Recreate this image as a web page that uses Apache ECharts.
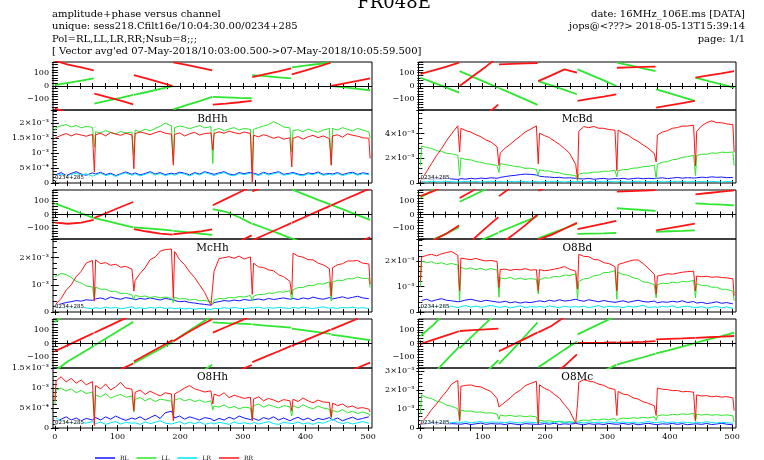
<!DOCTYPE html>
<html><head><meta charset="utf-8">
<script src="https://cdn.jsdelivr.net/npm/echarts/dist/echarts.min.js"></script>
<style>html,body{margin:0;padding:0;background:#fff}#c{width:764px;height:460px}</style>
</head><body><div id="c"></div>
<script>
// ---------------- data ----------------
const polNames = ['RL','LL','LR','RR'];
const channelsPerSubband = 63;
const subbands = 8;
const phaseOffsets = [0,21,42,62];              // channel offsets of phase samples inside a subband
const ampOffsets = [2,10,18,26,34,42,50,60];    // channel offsets of amplitude samples inside a subband
const dipChannels = [0,63,126,189,252,315,378,441,503]; // subband edge channels
const xTickLabels = [0,100,200,300,400,500];
const xTickMarks = [0,20,40,60,80,100,120,140,160,180,200,220,240,260,280,300,320,340,360,380,400,420,440,460,480,500];
const phaseTickLabels = [-100,0,100];
const AMP_UNIT = 1e-5; // amplitude arrays are in units of 1e-5

// BdHh
const ph_RR_BdHh = [-170,160,139,118, -57,-84,-110,-137, 82,55,27,0, 178,159,138,117, -140,-132,-122,-112, 67,89,110,132, 87,116,146,175, 0,19,38,57];
const ph_LL_BdHh = [7,24,40,57, -132,-110,-89,-67, -67,-45,-22,0, -175,-144,-113,-82, -82,-85,-89,-92, 82,74,65,57, 140,153,165,178, 0,-11,-21,-32];
const amp_RR_BdHh = [155,160,166,158,165,161,157,163, 162,167,158,170,164,160,167,161, 166,171,167,162,169,174,167,164, 163,168,158,165,170,161,166,168, 166,172,167,174,169,165,171,166, 160,155,162,157,150,155,147,152, 150,156,147,155,160,152,158,149, 158,162,154,165,160,157,152,150];
const dip_RR_BdHh = [150,37,48,60,110,3,54,60,82];
const amp_LL_BdHh = [186,192,196,188,193,185,190,187, 172,168,176,170,165,173,168,171, 178,172,181,175,183,190,201,192, 186,191,188,182,188,193,185,189, 178,183,175,181,186,178,183,180, 180,186,191,196,206,198,188,185, 176,179,172,181,175,170,178,183, 183,178,186,180,175,183,178,172];
const dip_LL_BdHh = [175,120,95,70,65,45,105,60,150];
const amp_RL_BdHh = [28,35,25,32,38,30,26,34, 30,36,28,33,25,31,37,29, 34,27,32,38,30,35,28,33, 30,36,33,27,35,30,38,32, 29,34,38,30,27,35,31,36, 33,28,36,30,34,38,29,33, 35,30,27,34,31,37,29,32, 30,35,28,33,36,29,34,31];
const amp_LR_BdHh = [24,30,22,28,33,26,31,23, 27,33,25,30,22,29,34,26, 31,24,29,35,27,32,25,30, 26,33,30,24,32,27,35,29, 25,31,35,27,24,32,28,33, 30,25,33,27,31,35,26,30, 32,27,24,31,28,34,26,29, 27,32,25,30,33,26,31,28];

// McBd
const ph_RR_McBd = [90,118,146,175, 0,73,145,-140, 162,166,170,172, 37,80,125,100, -112,-95,-79,-62, 137,140,143,145, -162,-145,-129,-112, 62,79,95,112];
const ph_LL_McBd = [62,25,-12,-50, 112,69,27,-15, -15,-57,-100,-142, 37,4,-29,-62, 125,83,42,0, 175,154,133,112, -25,-54,-83,-112, 62,37,13,-12];
const amp_RR_McBd = [25,92,158,222,278,342,398,462, 442,423,412,390,374,348,332,293, 243,282,313,347,378,412,433,462, 402,383,367,338,312,278,242,150, 418,456,447,457,443,442,432,427, 427,403,387,358,337,308,282,238, 388,412,423,442,448,460,460,467, 418,462,488,502,488,487,478,472];
const dip_RR_McBd = [10,250,141,155,30,100,170,140,250];
const amp_LL_McBd = [298,288,279,261,255,240,236,224, 203,190,187,173,168,156,152,141, 157,148,142,133,130,118,120,110, 107,98,97,86,82,70,67,58, 73,80,80,88,88,95,95,102, 98,108,110,120,122,132,134,143, 152,168,172,188,192,208,212,224, 222,233,232,243,240,249,247,250];
const dip_LL_McBd = [140,60,85,60,18,50,33,60,140];
const amp_RL_McBd = [30,36,28,34,31,38,33,29, 35,31,38,33,40,36,42,38, 45,52,58,62,68,72,70,65, 55,50,48,44,46,40,42,38, 35,32,38,30,34,37,31,36, 33,38,31,36,40,34,38,35, 38,42,36,40,45,39,43,40, 42,47,44,50,46,48,43,45];
const amp_LR_McBd = [12,8,14,10,9,13,11,8, 10,13,9,12,8,11,14,10, 12,9,13,10,15,11,8,12, 9,12,10,14,11,8,12,10, 11,8,12,9,13,10,12,9, 10,13,8,11,14,9,12,10, 12,9,11,14,10,13,9,11, 10,12,9,13,11,8,12,10];

// McHh
const ph_RR_McHh = [-60,-68,-60,-40, -25,15,55,92, -108,-125,-140,-148, -145,-135,-125,-110, 68,115,162,-153, 170,-147,-105,-63, -61,-18,25,65, 67,110,152,-167];
const ph_LL_McHh = [81,45,9,-27, -27,-49,-72,-94, -94,-102,-110,-118, -120,-130,-140,-150, 40,20,-20,-67, -67,-103,-139,-175, -176,146,108,73, 71,34,-4,-40];
const amp_RR_McHh = [32,50,80,100,130,150,180,190, 192,178,182,172,176,165,168,158, 116,142,163,193,202,224,230,232, 223,193,174,148,127,100,72,25, 150,197,200,204,198,206,195,203, 180,166,164,155,152,137,130,113, 217,206,202,193,192,180,174,160, 163,174,178,188,188,190,180,177];
const dip_RR_McHh = [25,40,77,50,20,65,65,59,102];
const amp_LL_McHh = [137,142,138,127,113,107,96,92, 92,84,84,76,76,68,69,63, 62,56,59,53,57,52,55,50, 54,48,50,44,47,41,43,38, 44,50,48,54,52,57,55,61, 58,65,64,70,69,75,73,79, 82,90,90,98,97,104,103,111, 110,117,116,123,122,129,124,124];
const dip_LL_McHh = [130,46,45,35,30,40,45,40,90];
const amp_RL_McHh = [25,30,35,38,42,40,45,43, 48,52,46,55,50,47,53,49, 45,50,47,52,48,44,50,46, 42,38,40,35,33,30,28,25, 35,38,42,40,44,41,46,43, 45,48,44,50,46,49,52,47, 50,46,52,48,55,50,47,53, 48,52,56,50,54,58,52,49];
const amp_LR_McHh = [14,17,12,16,13,18,15,12, 16,13,18,14,17,12,15,19, 13,16,12,17,14,18,13,15, 12,15,11,14,10,13,12,9, 14,12,16,13,17,14,12,16, 15,18,13,16,14,17,15,13, 17,14,18,15,13,16,19,14, 16,13,17,15,18,14,16,13];

// O8Bd
const ph_RR_O8Bd = [135,172,-140,-81, 121,175,-98,-19, 135,-155,-80,0, 175,-150,-105,-62, -108,-87,-67,-46, 168,172,176,179, -116,-100,-83,-67, 148,158,168,178];
const ph_LL_O8Bd = [125,178,-140,-94, 94,140,-174,-134, -130,-90,-50,-13, -175,-139,-103,-67, -143,-140,-138,-135, 46,40,33,27, -127,-123,-120,-116, 81,76,72,67];
const amp_RR_O8Bd = [215,222,226,220,228,233,237,222, 211,208,205,210,204,200,202,198, 166,168,163,167,165,170,164,166, 166,162,164,168,172,178,168,160, 226,218,217,206,204,193,190,178, 186,192,198,203,204,190,172,148, 141,145,150,148,152,156,158,160, 141,138,140,136,138,135,134,130];
const dip_RR_O8Bd = [122,83,96,83,90,83,70,83,64];
const amp_LL_O8Bd = [200,193,197,189,193,186,190,184, 175,168,173,166,171,164,170,164, 134,130,136,128,133,127,131,128, 126,134,133,140,138,145,143,149, 120,130,132,142,144,154,155,162, 156,146,144,134,130,118,116,107, 107,113,111,117,114,120,118,124, 111,104,104,97,97,89,89,81];
const dip_LL_O8Bd = [100,45,58,70,51,50,55,55,45];
const amp_RL_O8Bd = [45,50,42,48,52,46,44,40, 42,47,50,45,41,46,43,39, 38,42,36,40,35,39,37,41, 44,40,46,42,48,43,45,50, 46,42,48,44,40,45,41,38, 40,44,38,42,46,41,39,43, 36,40,38,42,39,44,37,41, 35,38,33,36,40,34,37,32];
const amp_LR_O8Bd = [20,24,18,22,26,19,23,17, 21,25,19,23,18,22,26,20, 18,22,16,20,24,17,21,19, 22,18,24,20,17,23,19,21, 19,23,17,21,25,18,22,20, 21,17,23,19,22,26,18,20, 18,22,19,24,17,21,23,18, 17,21,15,19,22,16,20,14];

// O8Hh
const ph_RR_O8Hh = [-57,-12,34,77, 79,124,170,-147, -132,-79,-26,25, 17,75,130,178, 80,121,162,-158, -137,-97,-57,-17, -17,23,63,102, 102,142,-178,-140];
const ph_LL_O8Hh = [158,-130,-74,-18, -15,44,103,159, -145,-92,-40,12, 17,80,143,-157, 155,150,146,142, 140,132,124,116, 110,97,83,70, 65,52,38,25];
const amp_RR_O8Hh = [118,128,115,124,112,120,108,116, 106,98,110,95,103,114,100,97, 89,95,84,92,86,80,88,85, 85,92,100,106,98,94,90,93, 85,80,88,76,82,78,74,77, 72,78,68,74,70,65,71,68, 72,66,75,68,63,70,65,64, 62,56,60,52,55,49,51,47];
const dip_RR_O8Hh = [68,6,43,18,60,18,43,27,40];
const amp_LL_O8Hh = [95,100,92,98,88,94,86,90, 82,78,86,75,80,84,77,80, 72,76,68,74,66,72,70,67, 70,74,68,72,66,70,64,68, 55,52,58,50,54,48,52,50, 56,60,52,58,54,50,56,53, 56,50,58,52,48,55,50,47, 44,40,46,38,42,36,40,35];
const dip_LL_O8Hh = [60,30,40,30,45,20,30,25,30];
const amp_RL_O8Hh = [15,22,28,20,25,18,24,20, 26,20,28,22,30,24,19,25, 22,28,20,26,32,24,38,42, 25,30,22,28,24,20,26,23, 18,24,20,27,22,30,25,21, 24,19,26,22,28,20,25,18, 22,27,20,25,18,24,21,26, 20,25,18,23,27,21,24,28];
const amp_LR_O8Hh = [25,18,12,15,10,14,12,16, 11,15,9,13,16,10,14,12, 13,9,15,11,14,18,12,10, 12,16,10,14,11,15,9,13, 10,14,12,9,15,11,13,10, 14,10,13,16,11,9,14,12, 11,15,10,13,9,14,12,18, 22,15,11,14,10,13,16,12];

// O8Mc
const ph_RR_O8Mc = [-5,28,60,90, 92,98,104,110, -57,-10,36,82, 82,129,-165,-80, 5,5,6,8, 6,8,12,18, 30,34,38,42, 42,46,50,55];
const ph_LL_O8Mc = [55,137,-120,-25, -34,58,149,-123, -150,-50,55,155, -175,-110,-45,15, 67,113,159,-157, -155,-128,-101,-75, -73,-48,-23,2, 5,30,55,80];
const amp_RR_O8Mc = [30,60,97,126,162,193,230,250, 219,224,226,218,216,203,192,155, 113,137,158,182,198,222,233,245, 227,208,197,176,157,123,92,25, 240,254,246,242,230,224,210,202, 192,178,174,158,152,138,130,117, 210,203,202,196,197,190,192,188, 174,168,170,164,167,162,165,158];
const dip_RR_O8Mc = [21,39,110,21,128,66,66,39,92];
const amp_LL_O8Mc = [174,160,154,141,135,120,114,101, 94,88,89,83,84,78,80,73, 68,63,66,61,64,59,63,58, 41,36,38,33,36,31,33,28, 37,42,40,45,42,47,44,50, 46,52,49,54,51,56,53,59, 64,69,66,72,69,74,71,77, 73,68,72,67,70,66,69,64];
const dip_LL_O8Mc = [75,39,45,20,25,35,40,35,30];
const amp_RL_O8Mc = [18,22,26,20,24,19,23,21, 20,24,18,22,26,19,23,21, 22,18,24,20,17,23,21,19, 19,23,20,25,18,22,20,24, 21,17,23,19,22,18,24,20, 20,24,19,23,17,21,25,19, 18,22,20,24,19,23,17,21, 22,19,24,18,21,25,20,17];
const amp_LR_O8Mc = [30,34,27,32,29,35,28,31, 29,33,27,31,34,28,32,30, 31,27,33,29,26,32,30,28, 28,32,26,30,33,27,31,29, 30,26,32,28,31,27,33,29, 28,32,27,31,25,30,34,28, 29,33,28,32,27,31,29,26, 31,27,33,29,26,30,28,25];

// amplitude axis ticks / labels
const ampTicks_BdHh = [0,5e-4,1e-3,1.5e-3,2e-3], ampLabels_BdHh = ['0','5×10⁻⁴','10⁻³','1.5×10⁻³','2×10⁻³'];
const ampTicks_McBd = [0,2e-3,4e-3], ampLabels_McBd = ['0','2×10⁻³','4×10⁻³'];
const ampTicks_McHh = [0,1e-3,2e-3], ampLabels_McHh = ['0','10⁻³','2×10⁻³'];
const ampTicks_O8Bd = [0,1e-3,2e-3], ampLabels_O8Bd = ['0','10⁻³','2×10⁻³'];
const ampTicks_O8Hh = [0,5e-4,1e-3,1.5e-3], ampLabels_O8Hh = ['0','5×10⁻⁴','10⁻³','1.5×10⁻³'];
const ampTicks_O8Mc = [0,1e-3,2e-3,3e-3], ampLabels_O8Mc = ['0','10⁻³','2×10⁻³','3×10⁻³'];

// ---------------- layout / style ----------------
const SERIF = "'DejaVu Serif','Liberation Serif',serif";
const polColors = {RL:'#1414ff', LL:'#2ee62e', LR:'#00e6f2', RR:'#ff1414'};
const cols = [{left:53, width:319}, {left:418.5, width:317.5}];
const rows = [{phTop:62, phH:48, ampTop:110, ampH:73}, {phTop:190, phH:49, ampTop:239, ampH:73}, {phTop:319, phH:49, ampTop:368, ampH:60}];

const panels = [
 {title:'BdHh', col:0, row:0, ampMax:2.45e-3, ampStep:5e-4, ticks:ampTicks_BdHh, labels:ampLabels_BdHh, ph:{LL:ph_LL_BdHh, RR:ph_RR_BdHh}, amp:{RL:amp_RL_BdHh, LL:amp_LL_BdHh, LR:amp_LR_BdHh, RR:amp_RR_BdHh}, dip:{LL:dip_LL_BdHh, RR:dip_RR_BdHh}},
 {title:'McBd', col:1, row:0, ampMax:5.9e-3, ampStep:2e-3, ticks:ampTicks_McBd, labels:ampLabels_McBd, ph:{LL:ph_LL_McBd, RR:ph_RR_McBd}, amp:{RL:amp_RL_McBd, LL:amp_LL_McBd, LR:amp_LR_McBd, RR:amp_RR_McBd}, dip:{LL:dip_LL_McBd, RR:dip_RR_McBd}},
 {title:'McHh', col:0, row:1, ampMax:2.69e-3, ampStep:1e-3, ticks:ampTicks_McHh, labels:ampLabels_McHh, ph:{LL:ph_LL_McHh, RR:ph_RR_McHh}, amp:{RL:amp_RL_McHh, LL:amp_LL_McHh, LR:amp_LR_McHh, RR:amp_RR_McHh}, dip:{LL:dip_LL_McHh, RR:dip_RR_McHh}},
 {title:'O8Bd', col:1, row:1, ampMax:2.86e-3, ampStep:1e-3, ticks:ampTicks_O8Bd, labels:ampLabels_O8Bd, ph:{LL:ph_LL_O8Bd, RR:ph_RR_O8Bd}, amp:{RL:amp_RL_O8Bd, LL:amp_LL_O8Bd, LR:amp_LR_O8Bd, RR:amp_RR_O8Bd}, dip:{LL:dip_LL_O8Bd, RR:dip_RR_O8Bd}},
 {title:'O8Hh', col:0, row:2, ampMax:1.5e-3, ampStep:5e-4, ticks:ampTicks_O8Hh, labels:ampLabels_O8Hh, ph:{LL:ph_LL_O8Hh, RR:ph_RR_O8Hh}, amp:{RL:amp_RL_O8Hh, LL:amp_LL_O8Hh, LR:amp_LR_O8Hh, RR:amp_RR_O8Hh}, dip:{LL:dip_LL_O8Hh, RR:dip_RR_O8Hh}},
 {title:'O8Mc', col:1, row:2, ampMax:3.15e-3, ampStep:1e-3, ticks:ampTicks_O8Mc, labels:ampLabels_O8Mc, ph:{LL:ph_LL_O8Mc, RR:ph_RR_O8Mc}, amp:{RL:amp_RL_O8Mc, LL:amp_LL_O8Mc, LR:amp_LR_O8Mc, RR:amp_RR_O8Mc}, dip:{LL:dip_LL_O8Mc, RR:dip_RR_O8Mc}}
];

// phase samples -> line data; wraps drawn as two clipped pieces, breaks between subbands
function phaseLine(vals){
  const out = [];
  for (let s=0; s<subbands; s++){
    let prev = null;
    for (let i=0; i<phaseOffsets.length; i++){
      const v = vals[s*phaseOffsets.length+i];
      const x = s*channelsPerSubband + phaseOffsets[i];
      if (v == null){ if (prev) out.push([x,'-']); prev = null; continue; }
      if (prev){
        const d = v - prev[1];
        if (d < -180){ out.push([x, v+360]); out.push([x,'-']); out.push([prev[0], prev[1]-360]); }
        else if (d > 180){ out.push([x, v-360]); out.push([x,'-']); out.push([prev[0], prev[1]+360]); }
      }
      out.push([x, v]); prev = [x, v];
    }
    out.push([s*channelsPerSubband+62.5, '-']);
  }
  return out;
}
function ampLine(vals, dips){
  const pts = [];
  for (let s=0; s<subbands; s++)
    for (let i=0; i<ampOffsets.length; i++)
      pts.push([s*channelsPerSubband + ampOffsets[i], vals[s*ampOffsets.length+i]*AMP_UNIT]);
  if (dips) dips.forEach((d,j)=>{ if (d!=null) pts.push([dipChannels[j], d*AMP_UNIT]); });
  pts.sort((a,b)=>a[0]-b[0]);
  return pts;
}

const grids=[], xAxes=[], yAxes=[], series=[], graphics=[];
const tickStyle = {color:'#000', width:1};
const labelStyle = {fontSize:8, fontFamily:SERIF, color:'#000'};

function addGrid(left, top, width, height, showX){
  const gi = grids.length;
  grids.push({left, top, width, height, show:true, borderColor:'#000', borderWidth:1, backgroundColor:'rgba(0,0,0,0)', containLabel:false, outerBoundsMode:'none'});
  const xb = {type:'value', gridIndex:gi, min:-3, max:506, axisLine:{show:false}, splitLine:{show:false},
    axisTick:{show:true, inside:true, length:3, customValues:xTickMarks, lineStyle:tickStyle}};
  xAxes.push(Object.assign({}, xb, {position:'bottom', axisLabel:Object.assign({show:showX, customValues:xTickLabels, margin:5}, labelStyle)}));
  xAxes.push(Object.assign({}, xb, {position:'top', axisLabel:{show:false}}));
  return gi;
}

panels.forEach(p=>{
  const c = cols[p.col], r = rows[p.row];
  // phase grid
  let gi = addGrid(c.left, r.phTop, c.width, r.phH, false);
  const pyb = {type:'value', gridIndex:gi, min:-180, max:180, interval:20, axisLine:{show:false}, splitLine:{show:false},
    axisTick:{show:true, inside:true, length:3, lineStyle:tickStyle}};
  yAxes.push(Object.assign({}, pyb, {position:'left', axisLabel:Object.assign({margin:4, formatter:v=>phaseTickLabels.indexOf(v)>=0 ? String(v).replace('-','−') : ''}, labelStyle)}));
  yAxes.push(Object.assign({}, pyb, {position:'right', axisLabel:{show:false}}));
  ['LL','RR'].forEach(pol=>{
    const s = {name:pol, type:'line', xAxisIndex:2*gi, yAxisIndex:2*gi, data:phaseLine(p.ph[pol]), symbol:'none', showSymbol:false,
      connectNulls:false, clip:true, silent:true, animation:false, lineStyle:{width:1.8, color:polColors[pol]}, itemStyle:{color:polColors[pol]}};
    if (pol==='RR') s.markLine = {silent:true, symbol:['none','none'], animation:false, label:{show:false},
      lineStyle:{color:'#000', width:1, type:'solid'}, data:[{yAxis:0}]};
    series.push(s);
  });
  // amplitude grid
  gi = addGrid(c.left, r.ampTop, c.width, r.ampH, p.row===2);
  const ayb = {type:'value', gridIndex:gi, min:0, max:p.ampMax, interval:p.ampStep, axisLine:{show:false}, splitLine:{show:false},
    axisTick:{show:true, inside:true, length:4, lineStyle:tickStyle}, minorTick:{show:true, splitNumber:5, length:2, lineStyle:tickStyle}};
  yAxes.push(Object.assign({}, ayb, {position:'left', axisLabel:Object.assign({margin:4, formatter:v=>{
    for (let i=0;i<p.ticks.length;i++) if (Math.abs(v-p.ticks[i]) < 1e-9) return p.labels[i];
    return ''; }}, labelStyle)}));
  yAxes.push(Object.assign({}, ayb, {position:'right', axisLabel:{show:false}}));
  polNames.forEach(pol=>{
    series.push({name:pol, type:'line', xAxisIndex:2*gi, yAxisIndex:2*gi, data:ampLine(p.amp[pol], p.dip[pol]), symbol:'none', showSymbol:false,
      clip:true, silent:true, animation:false, lineStyle:{width:1, color:polColors[pol]}, itemStyle:{color:polColors[pol]}});
  });
  graphics.push({type:'text', x:c.left + c.width/2, y:r.ampTop + 9, z:100, silent:true,
    style:{text:p.title, font:"10.5px 'DejaVu Serif'", fill:'#000', align:'center', verticalAlign:'middle', textAlign:'center', textVerticalAlign:'middle'}});
  graphics.push({type:'text', x:c.left + 2, y:r.ampTop + r.ampH - 5, z:100, silent:true,
    style:{text:'0234+285', font:"5.5px 'DejaVu Sans'", fill:'#000', backgroundColor:'rgba(255,255,255,0.7)', align:'left', verticalAlign:'middle', textAlign:'left', textVerticalAlign:'middle'}});
});

function hdr(text, x, y, size, align){
  graphics.push({type:'text', x, y, z:100, silent:true,
    style:{text, font:size+"px 'DejaVu Serif'", fill:'#000', align, verticalAlign:'middle', textAlign:align, textVerticalAlign:'middle'}});
}
hdr('FR048E', 394, 3, 18, 'center');
hdr('amplitude+phase versus channel', 52, 14, 10, 'left');
hdr('unique: sess218.Cfilt16e/10:04:30.00/0234+285', 52, 26.5, 10, 'left');
hdr('Pol=RL,LL,LR,RR;Nsub=8;;;', 52, 39, 10, 'left');
hdr("[ Vector avg'ed 07-May-2018/10:03:00.500->07-May-2018/10:05:59.500]", 52, 51.5, 10, 'left');
hdr('date: 16MHz_106E.ms [DATA]', 745, 14, 10, 'right');
hdr('jops@<???> 2018-05-13T15:39:14', 745, 26.5, 10, 'right');
hdr('page: 1/1', 745, 39, 10, 'right');

const chart = echarts.init(document.getElementById('c'), null, {renderer:'canvas'});
chart.setOption({
  animation:false,
  backgroundColor:'#fff',
  textStyle:{fontFamily:SERIF},
  legend:{data:polNames, left:90, top:450, icon:'rect', itemWidth:20, itemHeight:1.5, itemGap:8, selectedMode:false,
    textStyle:{fontSize:6, fontFamily:SERIF, color:'#000'}},
  grid:grids, xAxis:xAxes, yAxis:yAxes, series:series, graphic:graphics
});
</script></body></html>
